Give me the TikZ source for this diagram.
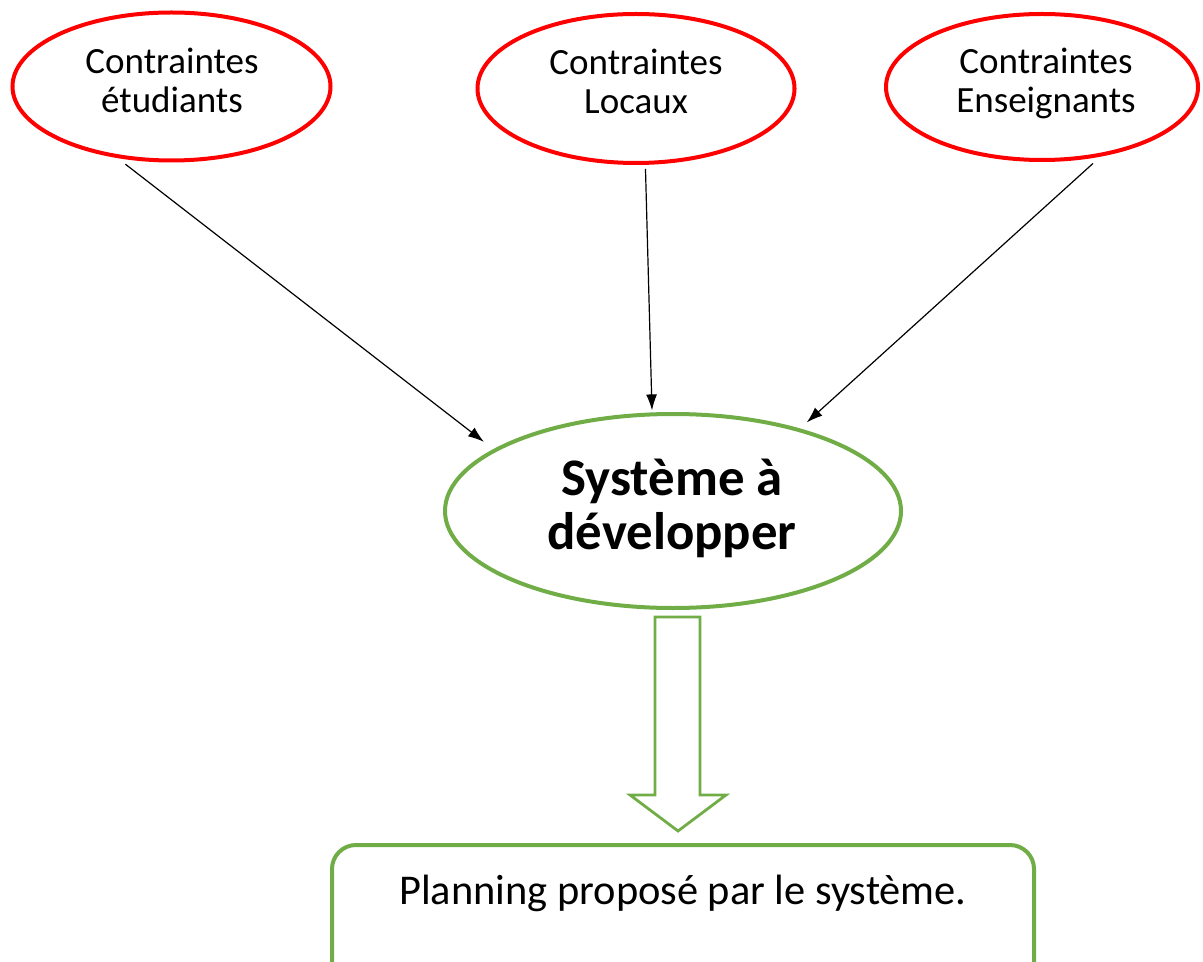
\documentclass[tikz,border=0pt]{standalone}
\usepackage{fontspec}
\setmainfont{Carlito}
\usetikzlibrary{shapes.geometric,arrows.meta}
\definecolor{vert}{HTML}{70AD47}
\tikzset{
  contrainte/.style={draw=red,line width=2pt,ellipse,minimum width=159pt,minimum height=74pt,inner sep=0pt},
  txt/.style={align=center,font=\fontsize{18.5}{19.5}\selectfont},
  fleche/.style={-{Latex[length=8pt,width=5.5pt]},line width=0.6pt},
}
\begin{document}
\begin{tikzpicture}[x=0.5pt,y=-0.5pt]
            \useasboundingbox (0,0) rectangle (1203,962);
            \clip (0,0) rectangle (1203,962);

            \node[contrainte] (etud) at (171.5,86.5) {};
            \node[contrainte,minimum width=158.5pt,minimum height=74.5pt] (loc) at (636,88.5) {};
            \node[contrainte,minimum width=156pt,minimum height=73pt] (ens) at (1042,87) {};
            \node[txt] (etudtxt) at (172,80.8) {Contraintes\\étudiants};
            \node[txt] (loctxt) at (636,81.8) {Contraintes\\Locaux};
            \node[txt] (enstxt) at (1046,83.5) {Contraintes\\Enseignants};

            \node[draw=vert,line width=2pt,ellipse,minimum width=228pt,minimum height=97pt,inner sep=0pt] (sys) at (673,511) {};
            \node[align=center,font=\fontsize{26.4}{27}\selectfont\bfseries] (systxt) at (672,508.3) {Système à\\développer};

            \draw[fleche,shorten <=5pt,shorten >=6pt] (etud.233) -- (sys.161);
            \draw[fleche,shorten <=2pt,shorten >=1pt] (loc.277) -- (sys.102);
            \draw[fleche,shorten <=5pt,shorten >=4.5pt] (ens.310) -- (sys.33);

            \draw[vert,line width=1.4pt] (655,617) -- (700,617) -- (700,795) -- (726,795) -- (678,831) -- (630,795) -- (655,795) -- cycle;

            \node[draw=vert,line width=2pt,rounded corners=12pt,anchor=north,minimum width=351pt,inner sep=0pt,text height=29.5pt,text depth=50pt,font=\fontsize{21.2}{25}\selectfont] (plan) at (683,843) {Planning proposé par le système.};
        \end{tikzpicture}
\end{document}
